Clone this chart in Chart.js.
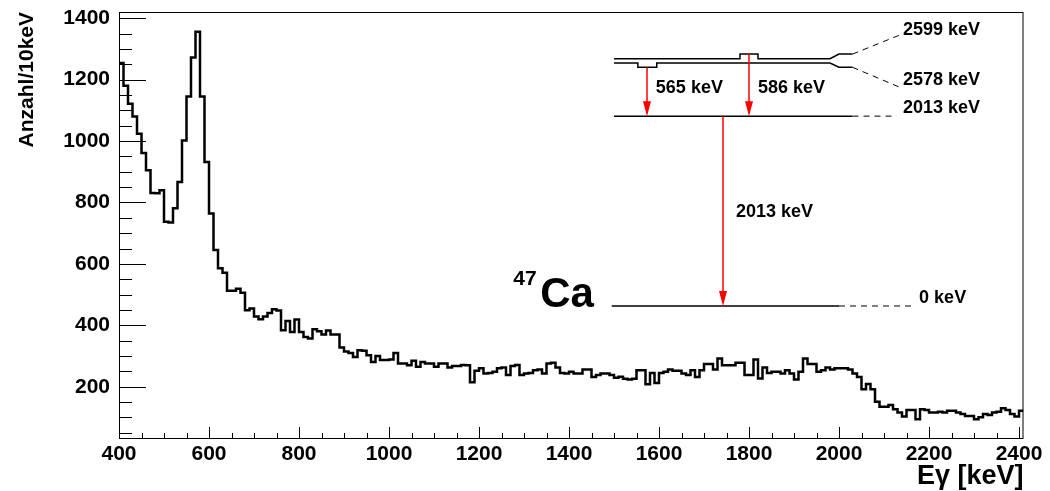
<!DOCTYPE html>
<html>
<head>
<meta charset="utf-8">
<script src="https://cdn.jsdelivr.net/npm/chart.js@4.4.1/dist/chart.umd.min.js"></script>
<style>
  html, body { margin: 0; padding: 0; background: #fff; }
</style>
</head>
<body>
<canvas id="spectrum" width="1050" height="491"></canvas>
<script>
// histogram: 10 keV bins starting at 400 keV
const binLow = 400;
const binWidth = 10;
const counts = [
  1254, 1180, 1121, 1080, 1024, 961, 905, 831, 830, 840,
  737, 735, 781, 867, 1002, 1145, 1272, 1356, 1145, 932,
  764, 645, 586, 571, 513, 513, 519, 506, 449, 455,
  429, 420, 429, 440, 452, 448, 384, 414, 378, 419,
  378, 362, 357, 387, 381, 370, 383, 370, 370, 328,
  315, 310, 297, 319, 317, 303, 281, 300, 287, 287,
  289, 310, 276, 276, 270, 285, 265, 281, 276, 276,
  265, 276, 276, 263, 268, 268, 271, 270, 215, 252,
  260, 243, 245, 249, 260, 263, 238, 268, 271, 238,
  243, 245, 254, 256, 243, 276, 278, 263, 245, 243,
  249, 243, 243, 256, 256, 232, 238, 243, 243, 238,
  229, 233, 226, 224, 226, 254, 254, 208, 245, 212,
  245, 249, 256, 252, 252, 243, 238, 254, 232, 254,
  274, 274, 256, 292, 270, 270, 270, 278, 278, 238,
  238, 289, 227, 263, 245, 249, 249, 243, 254, 243,
  224, 249, 292, 274, 274, 249, 254, 263, 256, 260,
  260, 260, 256, 243, 232, 192, 209, 192, 151, 135,
  135, 141, 127, 116, 103, 124, 124, 94, 127, 124,
  116, 116, 119, 116, 122, 122, 116, 111, 105, 105,
  94, 101, 111, 108, 116, 119, 130, 124, 111, 103, 122
];
const xTickValues = [400, 600, 800, 1000, 1200, 1400, 1600, 1800, 2000, 2200, 2400];
const yTickValues = [200, 400, 600, 800, 1000, 1200, 1400];

// 47Ca level scheme, in keV / counts units of the plot
const upperLevel = [[1500, 1268], [1780, 1268], [1780, 1283], [1820, 1283], [1820, 1268], [1980, 1268], [2000, 1283], [2030, 1283]];
const lowerLevel = [[1500, 1254], [1553, 1254], [1553, 1240], [1595, 1240], [1595, 1254], [1980, 1254], [2000, 1240], [2030, 1240]];
const levelLabels = [
  { text: '2599 keV', x: 2142, y: 1360 },
  { text: '2578 keV', x: 2142, y: 1198 },
  { text: '2013 keV', x: 2142, y: 1107 },
  { text: '0 keV', x: 2178, y: 488 },
  { text: '565 keV', x: 1593, y: 1172 },
  { text: '586 keV', x: 1820, y: 1172 },
  { text: '2013 keV', x: 1771, y: 768 }
];
const transitions = [[1573, 1240, 1081], [1800, 1283, 1081], [1743, 1081, 463]];

const points = counts.map((c, i) => ({ x: binLow + i * binWidth, y: c }));
points.push({ x: binLow + counts.length * binWidth, y: counts[counts.length - 1] });

const bold = (size) => 'bold ' + size + 'px "Liberation Sans", Arial, sans-serif';

const frameTicks = {
  id: 'frameTicks',
  afterDatasetsDraw(chart) {
    const { ctx, chartArea: a, scales: { x, y } } = chart;
    ctx.save();
    ctx.strokeStyle = '#000';
    ctx.lineWidth = 1;
    ctx.strokeRect(a.left + 0.5, a.top + 0.5, a.right - a.left - 1, a.bottom - a.top - 1);
    ctx.beginPath();
    for (let v = 400; v <= x.max; v += 50) {
      const px = Math.round(x.getPixelForValue(v)) + 0.5;
      const len = v % 200 === 0 ? 12 : 6;
      ctx.moveTo(px, a.bottom);
      ctx.lineTo(px, a.bottom - len);
    }
    for (let v = 50; v <= y.max; v += 50) {
      if (v < y.min) continue;
      const py = Math.round(y.getPixelForValue(v)) + 0.5;
      const len = v % 200 === 0 ? 27 : 13;
      ctx.moveTo(a.left, py);
      ctx.lineTo(a.left + len, py);
    }
    ctx.stroke();

    // axis titles
    ctx.fillStyle = '#000';
    ctx.font = bold(27);
    ctx.textAlign = 'right';
    ctx.textBaseline = 'middle';
    ctx.fillText('E\u03b3 [keV]', a.right, 477);
    ctx.save();
    ctx.translate(27, a.top);
    ctx.rotate(-Math.PI / 2);
    ctx.font = bold(21);
    ctx.textAlign = 'right';
    ctx.fillText('Anzahl/10keV', 0, 0);
    ctx.restore();
    ctx.restore();
  }
};

const levelScheme = {
  id: 'levelScheme',
  afterDatasetsDraw(chart) {
    const { ctx, scales: { x, y } } = chart;
    const X = (v) => x.getPixelForValue(v);
    const Y = (v) => y.getPixelForValue(v);
    ctx.save();
    ctx.strokeStyle = '#000';
    ctx.lineWidth = 1.5;
    const poly = (pts) => {
      ctx.beginPath();
      pts.forEach((p, i) => i ? ctx.lineTo(X(p[0]), Y(p[1])) : ctx.moveTo(X(p[0]), Y(p[1])));
      ctx.stroke();
    };
    poly(upperLevel);
    poly(lowerLevel);
    poly([[1500, 1081], [2030, 1081]]);
    poly([[1495, 463], [2000, 463]]);

    ctx.lineWidth = 1;
    ctx.setLineDash([6, 5]);
    poly([[2030, 1283], [2135, 1345]]);
    poly([[2030, 1240], [2135, 1175]]);
    poly([[2030, 1081], [2128, 1081]]);
    poly([[2000, 463], [2165, 463]]);
    ctx.setLineDash([]);

    // gamma transitions
    ctx.strokeStyle = '#ff0000';
    ctx.fillStyle = '#ff0000';
    ctx.lineWidth = 1.5;
    transitions.forEach(([e, from, to]) => {
      const px = Math.round(X(e));
      const y0 = Y(from), y1 = Y(to);
      ctx.beginPath();
      ctx.moveTo(px, y0);
      ctx.lineTo(px, y1 - 14);
      ctx.stroke();
      ctx.beginPath();
      ctx.moveTo(px - 4, y1 - 15);
      ctx.lineTo(px + 4, y1 - 15);
      ctx.lineTo(px, y1);
      ctx.closePath();
      ctx.fill();
    });

    ctx.fillStyle = '#000';
    ctx.font = bold(18);
    ctx.textAlign = 'left';
    ctx.textBaseline = 'middle';
    levelLabels.forEach((l) => ctx.fillText(l.text, X(l.x), Y(l.y)));

    ctx.textBaseline = 'alphabetic';
    ctx.font = bold(42);
    ctx.fillText('Ca', X(1336), Y(461));
    ctx.font = bold(21);
    ctx.fillText('47', X(1276), Y(530));
    ctx.restore();
  }
};

const tickFont = { family: '"Liberation Sans", Arial', weight: 'bold', size: 21 };

new Chart(document.getElementById('spectrum'), {
  type: 'line',
  data: {
    datasets: [{
      label: 'Anzahl',
      data: points,
      stepped: 'before',
      borderColor: '#000',
      borderWidth: 2.5,
      pointRadius: 0,
      fill: false
    }]
  },
  options: {
    responsive: false,
    animation: false,
    layout: { padding: { top: 12, right: 26.5, left: 0, bottom: 0 } },
    plugins: { legend: { display: false }, tooltip: { enabled: false } },
    scales: {
      x: {
        type: 'linear',
        min: 400,
        max: 2410,
        grid: { display: false, drawTicks: false },
        border: { display: false },
        afterBuildTicks: (s) => { s.ticks = xTickValues.map((v) => ({ value: v })); },
        afterFit: (s) => { s.height = 52; s.paddingLeft = 0; s.paddingRight = 0; },
        ticks: { font: tickFont, color: '#000', padding: 3, maxRotation: 0, autoSkip: false, callback: (v) => String(v) }
      },
      y: {
        type: 'linear',
        min: 30,
        max: 1420,
        grid: { display: false, drawTicks: false },
        border: { display: false },
        afterBuildTicks: (s) => { s.ticks = yTickValues.map((v) => ({ value: v })); },
        afterFit: (s) => { s.width = 119; s.paddingTop = 0; s.paddingBottom = 0; },
        ticks: { font: tickFont, color: '#000', padding: 9, autoSkip: false, callback: (v) => String(v) }
      }
    }
  },
  plugins: [frameTicks, levelScheme]
});
</script>
</body>
</html>
